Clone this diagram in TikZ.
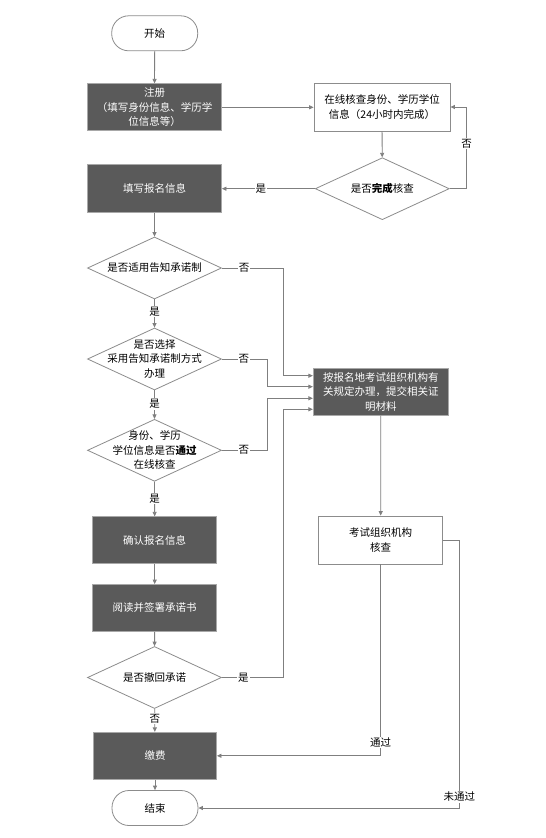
\documentclass[tikz,border=0pt]{standalone}
\usepackage{fontspec}
\setmainfont{Noto Sans CJK SC}
\usetikzlibrary{shapes.geometric,arrows.meta}
\definecolor{boxgray}{HTML}{5A5A5A}
\definecolor{boxedge}{HTML}{A8A8A8}
\definecolor{edgegray}{HTML}{8C8C8C}
\definecolor{linegray}{HTML}{7F7F7F}
\begin{document}
\begin{tikzpicture}[x=1pt,y=-1pt, font=\fontsize{10.5}{14.5}\selectfont,
  line/.style={draw=linegray, line width=0.8pt},
  arr/.style={line, -{Triangle[length=4.5pt,width=4pt]}},
  darkbox/.style={rectangle, fill=boxgray, draw=boxedge, line width=0.8pt, text=white, align=center, inner sep=0pt},
  whitebox/.style={rectangle, fill=white, draw=edgegray, line width=0.8pt, align=center, inner sep=0pt},
  term/.style={rectangle, rounded corners=17pt, draw=edgegray, fill=white, line width=0.8pt, minimum width=86pt, minimum height=35pt},
  dia/.style={diamond, draw=edgegray, fill=white, line width=0.8pt, minimum width=134pt, minimum height=62pt, inner sep=0pt},
  dtext/.style={align=center, inner sep=0pt},
  lab/.style={fill=white, inner sep=1pt}
]
\fill[white] (0,0) rectangle (546,838);
\useasboundingbox (0,0) rectangle (546,838);

% nodes
\node[term] (start) at (154.7,33.3) {开始};
\node[darkbox, minimum width=134pt, minimum height=47pt] (reg) at (154.5,107.3) {注册\\（填写身份信息、学历学\\位信息等）};
\node[whitebox, minimum width=136pt, minimum height=48pt] (check) at (382,107) {在线核查身份、学历学位\\信息（24小时内完成）};
\node[dia] (d1) at (382.3,188.7) {};
\node[dtext] (d1t) at (d1.center) {是否\textbf{完成}核查};
\node[darkbox, minimum width=134pt, minimum height=48pt] (fillin) at (154.5,188.2) {填写报名信息};
\node[dia] (q1) at (154.5,268) {};
\node[dtext] (q1t) at (q1.center) {是否适用告知承诺制};
\node[dia] (q2) at (154.5,359) {};
\node[dtext] (q2t) at (q2.center) {是否选择\\采用告知承诺制方式\\办理};
\node[dia] (q3) at (154.5,450.3) {};
\node[dtext] (q3t) at (q3.center) {身份、学历\\学位信息是否\textbf{通过}\\在线核查};
\node[darkbox, minimum width=124pt, minimum height=47pt] (confirm) at (154.7,540.3) {确认报名信息};
\node[darkbox, minimum width=124pt, minimum height=47pt] (read) at (154.7,608) {阅读并签署承诺书};
\node[dia] (q4) at (154.5,677.5) {};
\node[dtext] (q4t) at (q4.center) {是否撤回承诺};
\node[darkbox, minimum width=123pt, minimum height=47pt] (pay) at (155,755.8) {缴费};
\node[term] (end) at (155,808) {结束};
\node[darkbox, minimum width=135pt, minimum height=47pt] (alt) at (380.8,391.8) {按报名地考试组织机构有\\关规定办理，提交相关证\\明材料};
\node[whitebox, minimum width=124pt, minimum height=48pt] (exam) at (380.7,540) {考试组织机构\\核查};

% bend coordinates
\coordinate (c1a) at (466.7,188.7);
\coordinate (c1b) at (466.7,107);
\coordinate (k1) at (283.3,268);
\coordinate (k1b) at (283.3,375.7);
\coordinate (k2) at (267.7,359);
\coordinate (k2b) at (267.7,386.7);
\coordinate (k3) at (267.7,450.3);
\coordinate (k3b) at (267.7,398.3);
\coordinate (k4) at (283.3,677.5);
\coordinate (k4b) at (283.3,409.3);
\coordinate (k6) at (459.3,540);
\coordinate (k6b) at (459.3,808);

% connectors
\draw[arr] (start) -- (reg);
\draw[arr] (reg.east) -- (check.west |- reg.east);
\draw[arr] (check) -- (d1);
\draw[arr] (d1.west) -- node[lab, pos=0.58]{是} (fillin.east |- d1.west);
\draw[arr] (d1.east) -- (c1a) -- node[lab, pos=0.55]{否} (c1b) -- (check.east);
\draw[arr] (fillin) -- (q1);
\draw[arr] (q1) -- node[lab, pos=0.42]{是} (q2);
\draw[arr] (q2) -- node[lab, pos=0.48]{是} (q3);
\draw[arr] (q3) -- node[lab, pos=0.49]{是} (confirm);
\draw[arr] (confirm) -- (read);
\draw[arr] (read) -- (q4);
\draw[arr] (q4) -- node[lab, pos=0.42]{否} (pay);
\draw[arr] (pay) -- (end);
\draw[arr] (q1.east) -- node[lab, pos=0.36]{否} (k1) -- (k1b) -- (k1b -| alt.west);
\draw[arr] (q2.east) -- node[lab, pos=0.48]{否} (k2) -- (k2b) -- (k2b -| alt.west);
\draw[arr] (q3.east) -- node[lab, pos=0.48]{否} (k3) -- (k3b) -- (k3b -| alt.west);
\draw[arr] (q4.east) -- node[lab, pos=0.35]{是} (k4) -- (k4b) -- (k4b -| alt.west);
\draw[arr] (alt.south) -- (exam.north);
\draw[arr] (exam.south) -- node[lab, pos=0.93]{通过} (exam.south |- pay.east) -- (pay.east);
\draw[arr] (exam.east) -- (k6) -- node[lab, pos=0.958]{未通过} (k6b) -- (end.east);
\end{tikzpicture}
\end{document}
